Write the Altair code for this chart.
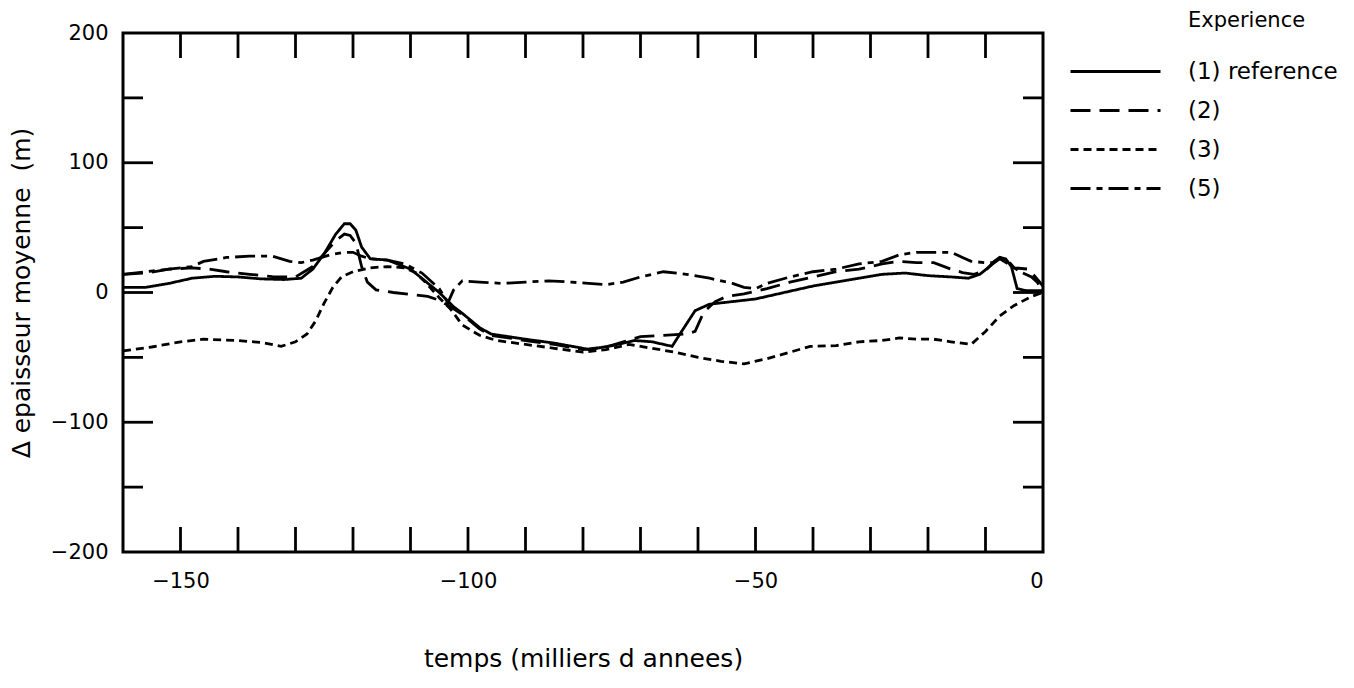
import altair as alt
import pandas as pd

SERIES = ["(1) reference", "(2)", "(3)", "(5)"]
LEGEND_TITLE = ["Experience"]

# (1) reference - solid
x1 = [-160, -156, -152, -148, -144, -140, -136, -132, -129, -127, -125, -123, -121.5, -120.5,
      -119.5, -118.5, -117, -114, -110, -105, -102.5, -101, -98, -96, -90, -85, -80, -79,
      -75, -71, -68, -64.5, -63, -60.5, -58, -54, -50, -45, -40, -36, -32, -28, -24, -20,
      -16, -13, -11, -9, -7.5, -6.5, -5.5, -4.5, -3, 0]
y1 = [4, 4, 7, 11, 12.5, 12, 10.5, 10, 11, 18, 30, 45, 53, 53,
      48, 35, 26, 25, 18, 0, -11, -16, -27, -32, -36, -39, -43, -44,
      -41, -37, -38, -41.5, -31, -14, -9, -7, -5, 0, 5, 8, 11, 14, 15, 13,
      12, 11, 14, 21, 27, 26, 20, 3, 1.5, 1.5]

# (2) - long dashes
x2 = [-160, -156, -152, -148, -145, -142, -138, -134, -130, -127, -125, -123, -121.5, -120.5,
      -119.5, -118.5, -117.5, -116, -113, -110, -107, -105, -103, -101, -98, -96, -90, -85,
      -80, -76, -73, -70, -66, -62, -60.5, -59, -57, -55, -52, -48, -44, -40, -36, -32,
      -28, -25, -22, -19, -16, -14, -12, -10, -8.5, -7.5, -6, -5, -2.5, 0]
y2 = [14, 15, 18, 19, 18, 16, 14, 12.3, 12, 20, 30, 40, 45, 44,
      38, 20, 8, 2, 0, -1.5, -3, -6, -11, -17, -28, -33, -37, -40,
      -44, -42, -38, -34, -33, -32, -30, -15, -7, -3, -1, 3, 8, 12, 16, 18,
      22, 24, 23, 23, 18, 15.4, 14, 17, 24, 27, 24, 19, 18, 5]

# (3) - short dashes
x3 = [-160, -155, -150, -146, -140, -136, -132.5, -130, -128, -126.5, -125, -123.5, -122, -120,
      -117, -114, -111, -109, -107, -105, -103, -101, -98, -95, -90, -85, -80, -76, -72,
      -68, -64, -60, -56, -52, -48, -44, -40.5, -36, -32, -28, -25, -22, -19, -16, -12.5,
      -10, -7.5, -5, -2, 0]
y3 = [-45, -42, -38, -36, -37, -38.5, -41.5, -38, -32, -22, -8, 4, 12, 16,
      19, 20, 19, 15, 6, -4, -13, -25, -33, -37, -40, -43, -46, -44, -40,
      -43, -46, -50, -53, -55, -51, -46, -41.5, -41, -38, -37, -35, -36, -36, -38, -40,
      -30, -18, -10, -3, 0]

# (5) - dash-dot
x5 = [-160, -156, -152, -148, -146, -142, -138, -134, -131, -129, -127, -124, -121.5, -120,
      -118.5, -117, -114, -111, -108, -105, -103.5, -102.5, -101, -98, -94, -90, -86, -82,
      -79, -76, -73, -70, -66, -62, -58, -54, -52, -50, -48, -44, -40, -36, -32, -28,
      -25, -22, -19, -16, -14, -12.5, -10, -8.5, -7.5, -6, -4, -2, -1, 0]
y5 = [14, 16, 18, 20, 24, 27, 28, 28, 24, 23, 25, 29, 31, 31,
      28, 26, 25, 22, 15, 3, -8, 2, 9, 8, 7, 8, 9, 8,
      7, 6, 8, 12, 16, 14, 11, 7, 4, 3, 7, 12, 16, 18, 22, 24,
      29, 31, 31, 31, 27, 24, 23, 23, 26, 22, 16, 12, 8, 0]

X_LABELS = [-150, -100, -50, 0]
Y_LABELS = [-200, -100, 0, 100, 200]
X_TICKS = [-150, -140, -130, -120, -110, -100, -90, -80, -70, -60, -50, -40, -30, -20, -10]
Y_MAJOR = [100, 0, -100]
Y_MINOR = [150, 50, -50, -150]

rows = []
for name, xs, ys in [(SERIES[0], x1, y1), (SERIES[1], x2, y2), (SERIES[2], x3, y3), (SERIES[3], x5, y5)]:
    for i, (a, b) in enumerate(zip(xs, ys)):
        rows.append({"serie": name, "t": a, "v": b, "i": i})
df = pd.DataFrame(rows)

FONT = "DejaVu Sans"
W, H = 920, 519
LW = 2.8

xscale = alt.Scale(domain=[-160, 0], nice=False, zero=False)
yscale = alt.Scale(domain=[-200, 200], nice=False, zero=False)

lines = alt.Chart(df).mark_line(color="black", strokeWidth=LW).encode(
    x=alt.X("t:Q", scale=xscale,
            axis=alt.Axis(values=X_LABELS, title="temps (milliers d annees)",
                          labelPadding=18, titlePadding=55, format="d")),
    y=alt.Y("v:Q", scale=yscale,
            axis=alt.Axis(values=Y_LABELS, title="Δ epaisseur moyenne \u00a0(m)",
                          labelPadding=15, titlePadding=16, format="d")),
    strokeDash=alt.StrokeDash(
        "serie:N",
        scale=alt.Scale(domain=SERIES, range=[[1, 0], [20, 9], [8, 5], [20, 6, 6, 6]]),
        legend=alt.Legend(
            title=None, orient="none", legendX=976, legendY=22, padding=0,
            symbolType="M-3,0H3", symbolSize=900, symbolStrokeWidth=LW,
            symbolStrokeColor="black", symbolFillColor="transparent",
            labelFont=FONT, labelFontSize=23, labelColor="black",
            labelOffset=56, rowPadding=10,
        ),
    ),
    detail="serie:N",
    order="i:Q",
)

xt = pd.DataFrame({"t": X_TICKS})
ymaj = pd.DataFrame({"v": Y_MAJOR})
ymin = pd.DataFrame({"v": Y_MINOR})

tick_bottom = alt.Chart(xt).mark_rule(color="black", strokeWidth=LW).encode(
    x=alt.X("t:Q", scale=xscale), y=alt.value(H), y2=alt.value(H - 25))
tick_top = alt.Chart(xt).mark_rule(color="black", strokeWidth=LW).encode(
    x=alt.X("t:Q", scale=xscale), y=alt.value(0), y2=alt.value(25))
tick_lmaj = alt.Chart(ymaj).mark_rule(color="black", strokeWidth=LW).encode(
    y=alt.Y("v:Q", scale=yscale), x=alt.value(0), x2=alt.value(30))
tick_lmin = alt.Chart(ymin).mark_rule(color="black", strokeWidth=LW).encode(
    y=alt.Y("v:Q", scale=yscale), x=alt.value(0), x2=alt.value(20))
tick_rmaj = alt.Chart(ymaj).mark_rule(color="black", strokeWidth=LW).encode(
    y=alt.Y("v:Q", scale=yscale), x=alt.value(W), x2=alt.value(W - 30))
tick_rmin = alt.Chart(ymin).mark_rule(color="black", strokeWidth=LW).encode(
    y=alt.Y("v:Q", scale=yscale), x=alt.value(W), x2=alt.value(W - 20))

legend_title = alt.Chart(pd.DataFrame({"label": LEGEND_TITLE})).mark_text(
    align="left", baseline="alphabetic", font=FONT, fontSize=21, color="black"
).encode(x=alt.value(1065), y=alt.value(-6), text="label:N")

chart = alt.layer(
    lines, tick_bottom, tick_top, tick_lmaj, tick_lmin, tick_rmaj, tick_rmin, legend_title
).properties(
    width=W, height=H,
    autosize=alt.AutoSizeParams(type="none"),
    padding={"left": 115, "top": 25, "right": 303, "bottom": 128},
).configure_view(
    stroke="black", strokeWidth=3
).configure_axis(
    grid=False, domain=False, ticks=False,
    labelFont=FONT, labelFontSize=21, labelColor="black",
    titleFont=FONT, titleFontSize=25, titleFontWeight="normal", titleColor="black",
)

chart.save("out.html", embed_options={"renderer": "svg", "actions": False})
